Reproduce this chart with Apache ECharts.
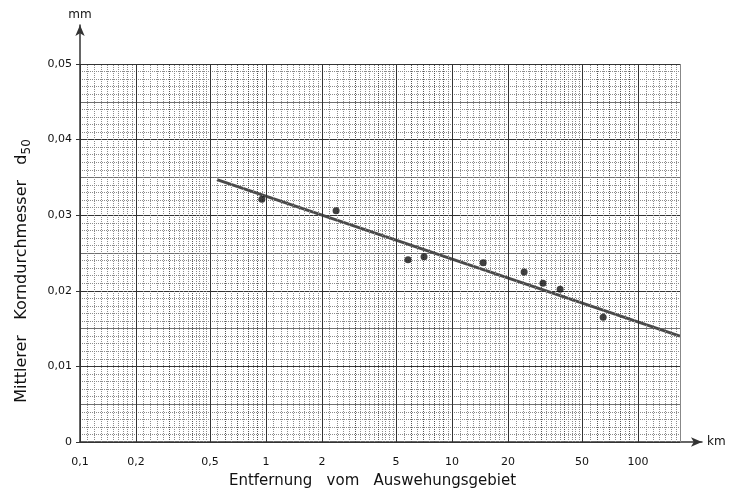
<!DOCTYPE html>
<html>
<head>
<meta charset="utf-8">
<script src="https://cdn.jsdelivr.net/npm/echarts@6/dist/echarts.min.js"></script>
<style>html,body{margin:0;padding:0;background:#fff}#c{width:729px;height:500px}</style>
</head>
<body>
<div id="c"></div>
<script>
// ---- data ----
const xTicks = [0.1, 0.2, 0.5, 1, 2, 5, 10, 20, 50, 100];
const yTicks = [0, 0.01, 0.02, 0.03, 0.04, 0.05];
const sampleDistKm = [0.95, 2.38, 5.8, 7.07, 14.7, 24.4, 30.8, 38.1, 64.9];
const sampleD50    = [0.0321, 0.0306, 0.0241, 0.0245, 0.0237, 0.0225, 0.0210, 0.0202, 0.0165];
const trendDistKm  = [0.545, 168];
const trendD50     = [0.0347, 0.0140];
const xAxisMax = 168;
const decades = [0.1, 1, 10, 100];
const mediumMultipliers = [3, 4, 6, 7, 8, 9];
const fineMultipliers = [1.1,1.2,1.3,1.4,1.5,1.6,1.7,1.8,1.9,2.2,2.4,2.6,2.8,3.2,3.4,3.6,3.8,4.2,4.4,4.6,4.8,5.5,6.5,7.5,8.5,9.5];

const FONT = 'DejaVu Sans';
const fmt = v => (v === 0 ? '0' : String(+v.toFixed(3)).replace('.', ','));

// vertical grid lines (graph paper) as markLines on the log axis
const vLines = [];
decades.forEach(d => {
  fineMultipliers.forEach(m => {
    const v = +(d * m).toPrecision(6);
    if (v <= xAxisMax) vLines.push({ xAxis: v, lineStyle: { color: '#8c8c8c', width: 1, type: 'dotted' }, label: { show: false } });
  });
  mediumMultipliers.forEach(m => {
    const v = +(d * m).toPrecision(6);
    if (v <= xAxisMax) vLines.push({ xAxis: v, lineStyle: { color: '#555', width: 1, type: 'dotted' }, label: { show: false } });
  });
});
xTicks.forEach(v => {
  vLines.push({
    xAxis: v,
    lineStyle: { color: '#333', width: 1, type: 'solid' },
    label: { show: true, position: 'start', distance: 15, formatter: fmt(v), color: '#111', fontSize: 11, fontFamily: FONT }
  });
});
vLines.push({ xAxis: xAxisMax, lineStyle: { color: '#888', width: 1, type: 'solid' }, label: { show: false } });

const chart = echarts.init(document.getElementById('c'), null, { renderer: 'canvas' });
chart.setOption({
  animation: false,
  backgroundColor: '#fff',
  grid: [
    { left: 80, right: 49, top: 64, bottom: 58 },
    { left: 80, right: 27, top: 25, bottom: 58 }
  ],
  xAxis: [
    {
      type: 'log', logBase: 10, gridIndex: 0, min: 0.1, max: xAxisMax,
      axisLine: { show: false }, axisTick: { show: false }, axisLabel: { show: false },
      splitLine: { show: false },
      name: 'Entfernung   vom   Auswehungsgebiet', nameLocation: 'middle', nameGap: 32,
      nameTextStyle: { fontFamily: FONT, fontSize: 15, color: '#111', padding: [0, 15, 0, 0] }
    },
    {
      type: 'value', gridIndex: 1, min: 0, max: 1,
      axisLine: { show: true, symbol: ['none', 'arrow'], symbolSize: [7, 11], lineStyle: { color: '#333', width: 1.5 } },
      axisTick: { show: false }, axisLabel: { show: false }, splitLine: { show: false },
      name: 'km', nameLocation: 'end', nameGap: 5,
      nameTextStyle: { fontFamily: FONT, fontSize: 12, color: '#111', padding: [12, 0, 0, 0] }
    }
  ],
  yAxis: [
    {
      type: 'value', gridIndex: 0, min: yTicks[0], max: yTicks[yTicks.length - 1], interval: 0.01, z: 3,
      axisLine: { show: false },
      axisTick: { show: true, length: 4, lineStyle: { color: '#333' } },
      axisLabel: { formatter: v => fmt(v), fontFamily: FONT, fontSize: 11, color: '#111', margin: 8 },
      splitLine: { show: true, lineStyle: { color: '#333', width: 1 } },
      name: 'Mittlerer   Korndurchmesser   d{sub|50}', nameLocation: 'middle', nameRotate: 90, nameGap: 50,
      nameTextStyle: {
        fontFamily: FONT, fontSize: 16, color: '#111', padding: [0, 36, 0, 0],
        rich: { sub: { fontFamily: FONT, fontSize: 12, color: '#111', verticalAlign: 'bottom', padding: [0, 0, -3, 0] } }
      }
    },
    {
      type: 'value', gridIndex: 0, position: 'left', min: 0, max: 0.05, interval: 0.005,
      axisLine: { show: false }, axisTick: { show: false }, axisLabel: { show: false },
      splitLine: { show: true, lineStyle: { color: '#707070', width: 1 } },
      minorTick: { show: false, splitNumber: 5 },
      minorSplitLine: { show: true, lineStyle: { color: '#8c8c8c', width: 1, type: 'dotted' } }
    },
    {
      type: 'value', gridIndex: 1, min: 0, max: 1,
      axisLine: { show: true, symbol: ['none', 'arrow'], symbolSize: [7, 11], lineStyle: { color: '#333', width: 1.5 } },
      axisTick: { show: false }, axisLabel: { show: false }, splitLine: { show: false },
      name: 'mm', nameLocation: 'end', nameGap: 4,
      nameTextStyle: { fontFamily: FONT, fontSize: 12, color: '#111' }
    }
  ],
  series: [
    {
      type: 'line', xAxisIndex: 0, yAxisIndex: 0, z: 1, silent: true,
      data: xTicks.map(v => [v, 0]),
      showSymbol: false, lineStyle: { opacity: 0 },
      markLine: { silent: true, symbol: ['none', 'none'], animation: false, precision: 6, data: vLines }
    },
    {
      type: 'line', xAxisIndex: 0, yAxisIndex: 0, z: 4,
      data: trendDistKm.map((x, i) => [x, trendD50[i]]),
      showSymbol: false, symbol: 'none',
      lineStyle: { color: '#4a4a4a', width: 3 }
    },
    {
      type: 'scatter', xAxisIndex: 0, yAxisIndex: 0, z: 5,
      data: sampleDistKm.map((x, i) => [x, sampleD50[i]]),
      symbol: 'circle', symbolSize: 7,
      itemStyle: { color: '#111' }
    }
  ]
});
</script>
</body>
</html>
